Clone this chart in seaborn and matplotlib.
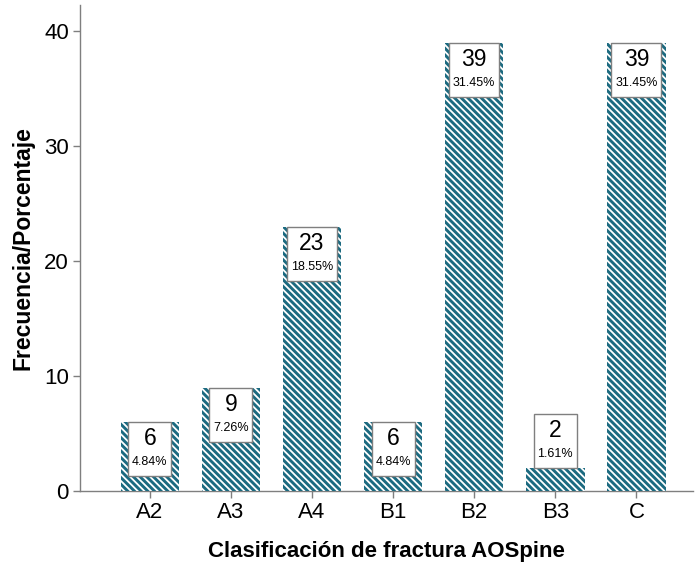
import matplotlib
matplotlib.use("Agg")
import matplotlib.pyplot as plt
import matplotlib.transforms as mtransforms
from matplotlib.patches import Rectangle
import seaborn as sns
import pandas as pd

categories = ["A2", "A3", "A4", "B1", "B2", "B3", "C"]
counts = [6, 9, 23, 6, 39, 2, 39]
y_ticks = [0, 10, 20, 30, 40]

total = sum(counts)
percents = [100 * c / total for c in counts]
df = pd.DataFrame({"cat": categories, "n": counts})

sns.set_theme(style="white")
plt.rcParams["font.family"] = ["Liberation Sans", "DejaVu Sans"]
plt.rcParams["hatch.linewidth"] = 1.3
plt.rcParams["hatch.color"] = "white"
plt.rcParams["text.color"] = "black"
plt.rcParams["axes.labelcolor"] = "black"

fig = plt.figure(figsize=(6.96, 5.63), dpi=100)
ax = fig.add_axes([0.115, 0.128, 0.881, 0.863])

teal = "#1c6a80"
sns.barplot(data=df, x="cat", y="n", color=teal, width=0.72, saturation=1,
            ax=ax, zorder=3)
for bar in ax.patches:
    bar.set_hatch("\\" * 5)
    bar.set_edgecolor("white")
    bar.set_linewidth(0)

ax.set_xlim(-0.86, 6.7)
ax.set_ylim(0, 42.3)
ax.set_yticks(y_ticks)

grey = "#7f7f7f"
for side in ["top", "right"]:
    ax.spines[side].set_visible(False)
for side in ["left", "bottom"]:
    ax.spines[side].set_color(grey)
    ax.spines[side].set_linewidth(1.0)
ax.tick_params(axis="both", which="both", length=5, width=1, color=grey,
               labelsize=16, labelcolor="black", pad=3, direction="out")
ax.tick_params(axis="x", bottom=True)
ax.tick_params(axis="y", left=True)

ax.set_xlabel("Clasificación de fractura AOSpine", fontsize=16,
              fontweight="bold", labelpad=13)
ax.set_ylabel("Frecuencia/Porcentaje", fontsize=16.5, fontweight="bold",
              labelpad=7)

# value boxes: count and percentage, hung from the bar top (or above short bars)
fig.canvas.draw()
px_per_unit = ax.transData.transform((0, 1))[1] - ax.transData.transform((0, 0))[1]
box_h = 54 / 100
for i, (c, p) in enumerate(zip(counts, percents)):
    bw = (43 if c < 10 else 50) / 100
    inside = c * px_per_unit > 60
    trans = fig.dpi_scale_trans + mtransforms.ScaledTranslation(i, c, ax.transData)
    top = 0 if inside else box_h
    ax.add_patch(Rectangle((-bw / 2, top - box_h), bw, box_h, transform=trans,
                           facecolor="white", edgecolor=grey, linewidth=1.0,
                           zorder=4, clip_on=False))
    ax.text(0, top - 0.165, f"{c}", transform=trans, ha="center", va="center",
            fontsize=16.5, color="black", zorder=5)
    ax.text(0, top - 0.40, f"{p:.2f}%", transform=trans, ha="center",
            va="center", fontsize=9, color="black", zorder=5)

fig.savefig("out.png", dpi=100)
